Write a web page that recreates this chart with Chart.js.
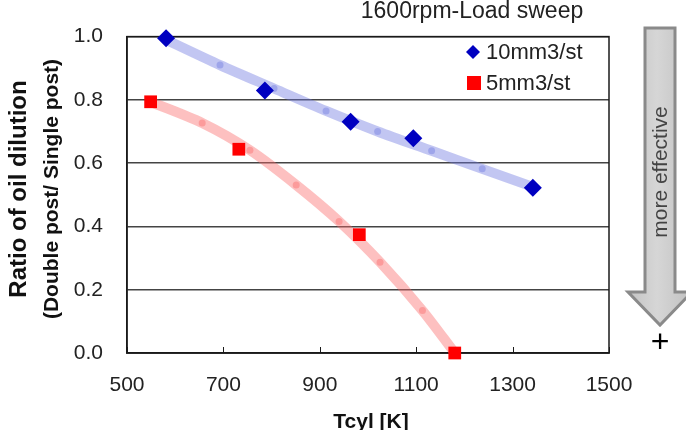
<!DOCTYPE html>
<html>
<head>
<meta charset="utf-8">
<script src="https://cdn.jsdelivr.net/npm/chart.js@4.4.1/dist/chart.umd.min.js"></script>
<style>
  html, body { margin: 0; padding: 0; background: #fff; }
  #wrap { width: 686px; height: 430px; position: relative; }
</style>
</head>
<body>
<div id="wrap"><canvas id="dilutionChart" width="686" height="430"></canvas></div>
<script>
// measured points
var tcyl10 = [581, 786, 964, 1094, 1342];
var ratio10 = [0.995, 0.830, 0.731, 0.679, 0.522];
var tcyl5 = [549, 732, 982, 1180];
var ratio5 = [0.794, 0.644, 0.374, 0.0];
// faded trend bands (dots included)
var trend10X = [581, 693, 805, 913, 1020, 1132, 1237, 1342];
var trend10Y = [0.99, 0.910, 0.836, 0.765, 0.700, 0.639, 0.582, 0.525];
var trend5X = [549, 656, 755, 851, 940, 1025, 1113, 1180];
var trend5Y = [0.794, 0.727, 0.641, 0.531, 0.416, 0.287, 0.134, 0.0];

var xTicks = [500, 700, 900, 1100, 1300, 1500];
var yTicks = [0.0, 0.2, 0.4, 0.6, 0.8, 1.0];
var seriesNames = ["10mm3/st", "5mm3/st"];
var titleText = "1600rpm-Load sweep";
var xTitle = "Tcyl [K]";
var yTitle = ["Ratio of oil dilution", "(Double post/ Single post)"];
var arrowText = "more effective";

var FONT = "'Liberation Sans', Arial, sans-serif";

function pts(xs, ys) {
  return xs.map(function (x, i) { return { x: x, y: ys[i] }; });
}
function dots(n) {
  // no dot at the two ends of a band
  return Array.from({ length: n }, function (_, i) { return (i == 0 || i == n - 1) ? 0 : 3.5; });
}

var extras = {
  id: 'extras',
  beforeDatasetsDraw: function (chart) {
    var ctx = chart.ctx, a = chart.chartArea, xs = chart.scales.x;
    ctx.save();
    ctx.strokeStyle = '#1a1a1a';
    ctx.lineWidth = 1.5;
    ctx.strokeRect(a.left, a.top, a.right - a.left, a.bottom - a.top);
    // x tick marks point inward
    ctx.lineWidth = 1;
    ctx.beginPath();
    xTicks.forEach(function (v) {
      var px = Math.round(xs.getPixelForValue(v)) + 0.5;
      ctx.moveTo(px, a.bottom);
      ctx.lineTo(px, a.bottom - 6);
    });
    ctx.stroke();
    ctx.restore();
  },
  afterDraw: function (chart) {
    var ctx = chart.ctx;
    ctx.save();

    // title
    ctx.fillStyle = '#222';
    ctx.font = "23px " + FONT;
    ctx.textAlign = 'center';
    ctx.textBaseline = 'alphabetic';
    ctx.fillText(titleText, 472, 18);

    // legend
    ctx.font = "22px " + FONT;
    ctx.textAlign = 'left';
    ctx.textBaseline = 'middle';
    ctx.fillStyle = '#0000c0';
    ctx.beginPath();
    ctx.moveTo(473, 45); ctx.lineTo(480, 52); ctx.lineTo(473, 59); ctx.lineTo(466, 52);
    ctx.closePath(); ctx.fill();
    ctx.fillStyle = '#ff0000';
    ctx.fillRect(467, 76, 14, 14);
    ctx.fillStyle = '#222';
    ctx.fillText(seriesNames[0], 486, 53);
    ctx.fillText(seriesNames[1], 486, 84);

    // y axis title, two lines
    ctx.textAlign = 'center';
    ctx.textBaseline = 'middle';
    ctx.save();
    ctx.translate(19, 189);
    ctx.rotate(-Math.PI / 2);
    ctx.font = "bold 24px " + FONT;
    ctx.fillStyle = '#111';
    ctx.fillText(yTitle[0], 0, 0);
    ctx.restore();
    ctx.save();
    ctx.translate(52, 189);
    ctx.rotate(-Math.PI / 2);
    ctx.font = "bold 21px " + FONT;
    ctx.fillStyle = '#111';
    ctx.fillText(yTitle[1], 0, 0);
    ctx.restore();

    // x axis title
    ctx.font = "bold 21px " + FONT;
    ctx.textBaseline = 'alphabetic';
    ctx.fillStyle = '#111';
    ctx.fillText(xTitle, 371, 428);

    // "more effective" arrow
    var g = ctx.createLinearGradient(628, 0, 686, 0);
    g.addColorStop(0, '#c4c4c4');
    g.addColorStop(0.5, '#d6d6d6');
    g.addColorStop(1, '#c4c4c4');
    ctx.beginPath();
    ctx.moveTo(645, 28);
    ctx.lineTo(675, 28);
    ctx.lineTo(675, 292);
    ctx.lineTo(692, 292);
    ctx.lineTo(660, 325);
    ctx.lineTo(628, 292);
    ctx.lineTo(645, 292);
    ctx.closePath();
    ctx.fillStyle = g;
    ctx.fill();
    ctx.strokeStyle = '#8a8a8a';
    ctx.lineWidth = 3;
    ctx.stroke();

    ctx.save();
    ctx.translate(661, 172);
    ctx.rotate(-Math.PI / 2);
    ctx.font = "21px " + FONT;
    ctx.fillStyle = '#444';
    ctx.textBaseline = 'middle';
    ctx.fillText(arrowText, 0, 0);
    ctx.restore();

    ctx.font = "32px " + FONT;
    ctx.fillStyle = '#000';
    ctx.textBaseline = 'middle';
    ctx.fillText('+', 660, 343);

    ctx.restore();
  }
};

var ctxD = document.getElementById("dilutionChart").getContext('2d');
var dilutionChart = new Chart(ctxD, {
  type: 'scatter',
  data: {
    datasets: [{
      label: seriesNames[0],
      data: pts(tcyl10, ratio10),
      pointStyle: 'rectRot',
      pointRadius: 9,
      backgroundColor: '#0000c0',
      borderWidth: 0,
      clip: false
    }, {
      label: seriesNames[1],
      data: pts(tcyl5, ratio5),
      pointStyle: 'rect',
      pointRadius: 9,
      backgroundColor: '#ff0000',
      borderWidth: 0,
      clip: false
    }, {
      label: 'trend 10',
      data: pts(trend10X, trend10Y),
      showLine: true,
      borderColor: 'rgba(110,120,225,0.42)',
      borderWidth: 10,
      borderCapStyle: 'round',
      tension: 0.3,
      pointRadius: dots(trend10X.length),
      pointBackgroundColor: 'rgba(110,120,225,0.42)',
      pointBorderWidth: 0,
      clip: false
    }, {
      label: 'trend 5',
      data: pts(trend5X, trend5Y),
      showLine: true,
      borderColor: 'rgba(250,105,105,0.42)',
      borderWidth: 10,
      borderCapStyle: 'round',
      tension: 0.3,
      pointRadius: dots(trend5X.length),
      pointBackgroundColor: 'rgba(250,105,105,0.42)',
      pointBorderWidth: 0,
      clip: false
    }]
  },
  options: {
    responsive: false,
    animation: false,
    devicePixelRatio: 1,
    layout: { padding: { left: 0, top: 31, right: 77, bottom: 0 } },
    plugins: {
      legend: { display: false },
      tooltip: { enabled: false }
    },
    scales: {
      x: {
        type: 'linear',
        min: 500,
        max: 1500,
        afterBuildTicks: function (s) { s.ticks = xTicks.map(function (v) { return { value: v }; }); },
        afterFit: function (s) { s.height = 77; },
        grid: { drawOnChartArea: false, drawTicks: false },
        border: { color: '#1a1a1a', width: 1.5 },
        ticks: {
          color: '#222', padding: 20, font: { family: FONT, size: 21 },
          autoSkip: false, maxRotation: 0, minRotation: 0,
          callback: function (v) { return String(v); }
        }
      },
      y: {
        min: 0,
        max: 1,
        afterBuildTicks: function (s) { s.ticks = yTicks.map(function (v) { return { value: v }; }); },
        afterFit: function (s) { s.width = 127; },
        grid: { color: '#444', lineWidth: 1.5, drawTicks: false },
        border: { color: '#1a1a1a', width: 1.5 },
        ticks: {
          color: '#222', padding: 24, font: { family: FONT, size: 21 },
          autoSkip: false,
          callback: function (v) { return v.toFixed(1); }
        }
      }
    }
  },
  plugins: [extras]
});
</script>
</body>
</html>
